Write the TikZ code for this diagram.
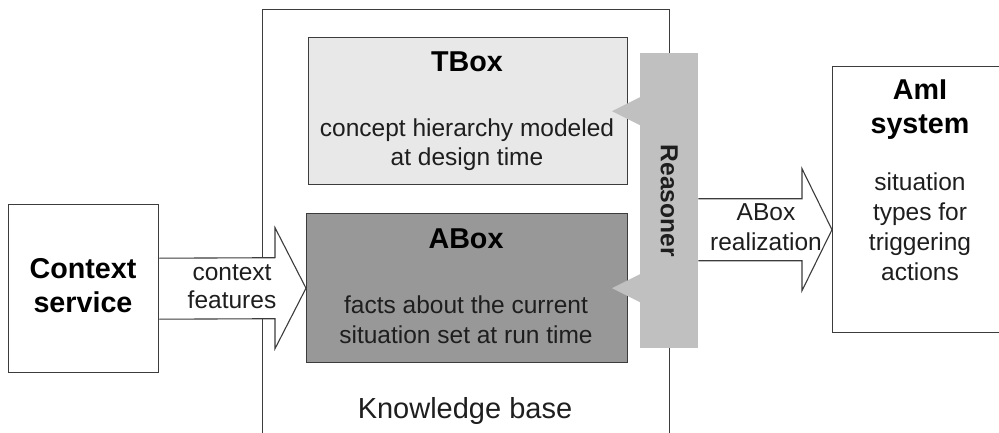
\documentclass[tikz,border=0pt]{standalone}
\usepackage{fontspec}
\setmainfont{Liberation Sans}
\usetikzlibrary{calc}
\definecolor{tboxfill}{HTML}{E8E8E8}
\definecolor{aboxfill}{HTML}{989898}
\definecolor{reasfill}{HTML}{C0C0C0}
\definecolor{edge}{HTML}{3C3C3C}
\definecolor{ink}{HTML}{1E1E1E}
\begin{document}
\begin{tikzpicture}[x=1pt,y=-1pt,
  boxline/.style={draw=edge, line width=1.4pt, inner sep=0pt, anchor=north west},
  blockarrow/.style={draw=edge, line width=1.1pt, fill=white, line join=miter},
  plain/.style={font=\fontsize{24.5}{28}\selectfont, text=ink, inner sep=0pt, anchor=base},
  kblabel/.style={font=\fontsize{29}{33}\selectfont, text=ink, inner sep=0pt, anchor=base},
  title/.style={font=\fontsize{28.7}{34}\selectfont\bfseries, text=black, inner sep=0pt, anchor=base},
]
\useasboundingbox (0,0) rectangle (999,433);

% knowledge base container (open at the bottom)
\node[boxline, minimum width=407pt, minimum height=440pt] (kb) at (262,9) {};
\node[kblabel] (kbtext) at (465,418) {Knowledge base};

% TBox and ABox
\node[boxline, fill=tboxfill, minimum width=319pt, minimum height=147pt] (tbox) at (308,37) {};
\node[boxline, fill=aboxfill, minimum width=321pt, minimum height=149pt] (abox) at (306,213) {};

% reasoner bar with its two pointers
\node[fill=reasfill, inner sep=0pt, anchor=north west, minimum width=58pt, minimum height=295pt] (reasoner) at (640,53) {};
\fill[reasfill] ($(reasoner.west |- tbox.east)+(0,-14)$) -- ($(reasoner.west |- tbox.east)+(-28,0)$) -- ($(reasoner.west |- tbox.east)+(0,14)$) -- cycle;
\fill[reasfill] ($(reasoner.west |- abox.east)+(0,-14)$) -- ($(reasoner.west |- abox.east)+(-28,0)$) -- ($(reasoner.west |- abox.east)+(0,14)$) -- cycle;
\node[font=\fontsize{24.6}{28}\selectfont\bfseries, text=ink, inner sep=0pt, rotate=-90] (reastext) at (reasoner.center) {Reasoner};

% context service and AmI system
\node[boxline, fill=white, minimum width=150pt, minimum height=168pt] (ctx) at (8,204) {};
\node[boxline, fill=white, minimum width=176pt, minimum height=266pt] (aml) at (832,66) {};

% block arrow: context features
\draw[blockarrow] ($(ctx.east)+(0,-30.5)$) -- ($(abox.west)+(-31,-30.5)$) -- ($(abox.west)+(-31,-60.5)$)
  -- (abox.west) -- ($(abox.west)+(-31,60.5)$) -- ($(abox.west)+(-31,30.5)$) -- ($(ctx.east)+(0,30.5)$);

% block arrow: ABox realization
\coordinate (realtip) at ($(aml.west)+(0,30)$);
\draw[blockarrow] ($(reasoner.east |- realtip)+(0,-31)$) -- ($(realtip)+(-30,-31)$) -- ($(realtip)+(-30,-61)$)
  -- (realtip) -- ($(realtip)+(-30,61)$) -- ($(realtip)+(-30,31)$) -- ($(reasoner.east |- realtip)+(0,31)$);

% texts
\node[title] (ctx1) at (83,278) {Context};
\node[title] (ctx2) at (83,312) {service};
\node[plain] (cf1) at (232,280) {context};
\node[plain] (cf2) at (232,308) {features};

\node[title] (tbt) at (467,72) {TBox};
\node[plain] (tb1) at (467,137) {concept hierarchy modeled};
\node[plain] (tb2) at (467,165) {at design time};

\node[title] (abt) at (466,248) {ABox};
\node[plain] (ab1) at (466,313) {facts about the current};
\node[plain] (ab2) at (466,343) {situation set at run time};

\node[plain] (re1) at (766,220) {ABox};
\node[plain] (re2) at (766,250) {realization};

\node[title] (am1) at (920,100) {AmI};
\node[title] (am2) at (920,134) {system};
\node[plain] (am3) at (920,190) {situation};
\node[plain] (am4) at (920,220) {types for};
\node[plain] (am5) at (920,250) {triggering};
\node[plain] (am6) at (920,280) {actions};
\end{tikzpicture}
\end{document}
